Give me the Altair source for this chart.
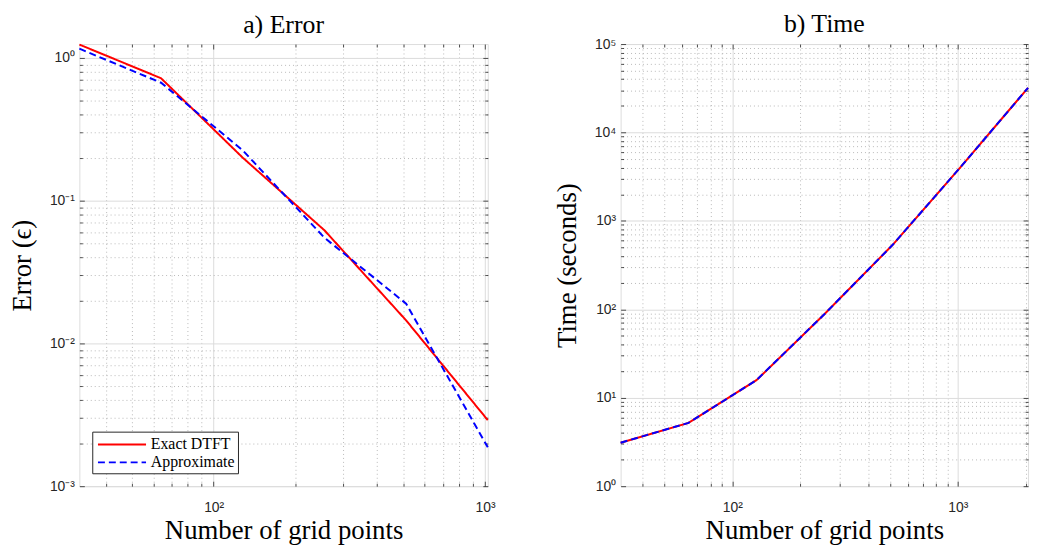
import altair as alt
import pandas as pd

# ---------------- data ----------------
n_err = [32, 64, 128, 256, 512, 1024]
err_exact = [1.24, 0.72, 0.20, 0.062, 0.0145, 0.0029]
err_approx = [1.16, 0.67, 0.225, 0.055, 0.019, 0.00187]

n_time = [32, 64, 128, 256, 512, 1024, 2048]
time_exact = [3.1, 5.2, 15.8, 88, 530, 4000, 32000]
time_approx = [3.1, 5.2, 15.8, 88, 530, 4000, 32000]

series_names = ["Exact DTFT", "Approximate"]
series_colors = ["#ff0000", "#0000ff"]

x_major = [100, 1000]
x_minor_err = [40, 50, 60, 70, 80, 90, 200, 300, 400, 500, 600, 700, 800, 900]
x_minor_time = x_minor_err + [2000]
y_major_err = [0.001, 0.01, 0.1, 1]
y_minor_err = [round(k * d, 6) for d in [0.001, 0.01, 0.1] for k in range(2, 10)]
y_major_time = [1, 10, 100, 1000, 10000, 100000]
y_minor_time = [k * d for d in [1, 10, 100, 1000, 10000] for k in range(2, 10)]

SERIF = "Liberation Serif"
SANS = "Liberation Sans"
FRAME = "#262626"
SUP = "'10' + ['⁻³','⁻²','⁻¹','⁰','¹','²','³','⁴','⁵'][round(log(datum.value)/LN10)+3]"


def long_df(n, a, b):
    rows = []
    for xi, v in zip(n, a):
        rows.append({"n": xi, "v": v, "series": series_names[0]})
    for xi, v in zip(n, b):
        rows.append({"n": xi, "v": v, "series": series_names[1]})
    return pd.DataFrame(rows)


def guide_layer(base, xs, ys, xorient, yorient, tick, grid=None):
    common = dict(labels=False, domain=False, title=None)
    if grid is None:
        xa = alt.Axis(orient=xorient, values=xs, grid=False, ticks=True, tickSize=tick,
                      offset=-tick, tickColor=FRAME, tickWidth=0.8, **common)
        ya = alt.Axis(orient=yorient, values=ys, grid=False, ticks=True, tickSize=tick,
                      offset=-tick, tickColor=FRAME, tickWidth=0.8, **common)
    else:
        xa = alt.Axis(orient=xorient, values=xs, grid=True, ticks=False, **grid, **common)
        ya = alt.Axis(orient=yorient, values=ys, grid=True, ticks=False, **grid, **common)
    return base.mark_line(strokeOpacity=0).encode(
        x=alt.X("n:Q", axis=xa), y=alt.Y("v:Q", axis=ya)
    )


def panel(df, xdom, ydom, xmin, xmaj, ymin, ymaj, title, ytitle, with_legend, w, h, toff):
    xs = alt.Scale(type="log", domain=xdom, nice=False)
    ys = alt.Scale(type="log", domain=ydom, nice=False)
    base = alt.Chart(df).encode(x=alt.X("n:Q", scale=xs), y=alt.Y("v:Q", scale=ys))

    minor_grid = guide_layer(base, xmin, ymin, "top", "right", 0,
                             grid=dict(gridDash=[1, 3], gridColor="#a8a8a8", gridWidth=0.8))
    t1 = guide_layer(base, xmin, ymin, "bottom", "left", 3)
    t2 = guide_layer(base, xmin, ymin, "top", "right", 3)
    t3 = guide_layer(base, xmaj, ymaj, "bottom", "left", 5)
    t4 = guide_layer(base, xmaj, ymaj, "top", "right", 5)

    xa = alt.Axis(orient="bottom", values=xmaj, grid=True, gridColor="#dcdcdc", gridWidth=1,
                  ticks=False, domain=False, labelExpr=SUP, labelFont=SANS, labelFontSize=14,
                  labelColor=FRAME, labelPadding=15, title="Number of grid points",
                  titleFont=SERIF, titleFontSize=27, titleFontWeight="normal",
                  titleColor="black", titlePadding=3)
    ya = alt.Axis(orient="left", values=ymaj, grid=True, gridColor="#dcdcdc", gridWidth=1,
                  ticks=False, domain=False, labelExpr=SUP, labelFont=SANS, labelFontSize=14,
                  labelColor=FRAME, labelPadding=5, title=ytitle,
                  titleFont=SERIF, titleFontSize=27, titleFontWeight="normal",
                  titleColor="black", titlePadding=13)

    if with_legend:
        leg = alt.Legend(title=None, orient="none", legendX=13, legendY=h - 55,
                         symbolType="M-2.8,0H2.8", symbolSize=300, symbolStrokeWidth=2,
                         labelFont=SERIF, labelFontSize=16, labelColor="black",
                         strokeColor=FRAME, fillColor="white", padding=3, rowPadding=0,
                         symbolOffset=17, labelOffset=19, cornerRadius=0)
        col = alt.Color("series:N", scale=alt.Scale(domain=series_names, range=series_colors), legend=leg)
        dash = alt.StrokeDash("series:N", scale=alt.Scale(domain=series_names, range=[[1, 0], [7, 4]]), legend=leg)
        red = base.mark_line(strokeWidth=2).encode(
            x=alt.X("n:Q", scale=xs, axis=xa), y=alt.Y("v:Q", scale=ys, axis=ya),
            color=col, strokeDash=dash
        ).transform_filter(alt.datum.series == series_names[0])
        blue = base.mark_line(strokeWidth=2).encode(
            x=alt.X("n:Q", scale=xs, axis=None), y=alt.Y("v:Q", scale=ys, axis=None),
            color=col, strokeDash=dash
        ).transform_filter(alt.datum.series == series_names[1])
    else:
        red = base.mark_line(strokeWidth=2, color=series_colors[0]).encode(
            x=alt.X("n:Q", scale=xs, axis=xa), y=alt.Y("v:Q", scale=ys, axis=ya)
        ).transform_filter(alt.datum.series == series_names[0])
        blue = base.mark_line(strokeWidth=2, color=series_colors[1], strokeDash=[7, 4]).encode(
            x=alt.X("n:Q", scale=xs, axis=None), y=alt.Y("v:Q", scale=ys, axis=None)
        ).transform_filter(alt.datum.series == series_names[1])

    return alt.layer(minor_grid, t1, t2, t3, t4, red, blue).resolve_axis(
        x="independent", y="independent"
    ).properties(
        width=w, height=h,
        title=alt.Title(title, font=SERIF, fontSize=26, fontWeight="normal", color="black",
                        offset=toff, frame="group"),
    )


left = panel(long_df(n_err, err_exact, err_approx), [32, 1024], [0.001, 1.25],
             x_minor_err, x_major, y_minor_err, y_major_err, "a) Error", "Error (ϵ)", True, 412, 446, 3)
right = panel(long_df(n_time, time_exact, time_approx), [32, 2048], [1, 100000],
              x_minor_time, x_major, y_minor_time, y_major_time, "b) Time", "Time (seconds)", False, 411, 446, 0)

chart = alt.hconcat(left, right, spacing=57).properties(
    padding={"left": 0, "top": 0, "right": 0, "bottom": 0}
).configure_view(stroke=FRAME, strokeWidth=1).configure(background="white")

chart.save("out.html", embed_options={"renderer": "svg", "actions": False})
